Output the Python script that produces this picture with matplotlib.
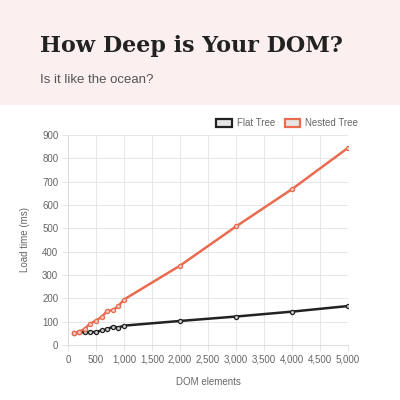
import matplotlib.pyplot as plt
from matplotlib.patches import Rectangle
from matplotlib.ticker import FuncFormatter

plt.rcParams['font.family'] = ['Liberation Sans', 'DejaVu Sans']

# 数据
dom_elements = [100, 200, 300, 400, 500, 600, 700, 800, 900, 1000, 2000, 3000, 4000, 5000]
flat_tree = [51, 54, 55, 56, 55, 63, 67, 79, 75, 83, 103, 122, 143, 167]
nested_tree = [50, 57, 70, 92, 105, 120, 146, 150, 167, 195, 340, 508, 668, 845]

flat_color = '#222222'
nested_color = '#ea6b4f'
grid_color = '#e6e6e6'
text_color = '#666666'

fig = plt.figure(figsize=(4, 4), dpi=100)
fig.patch.set_facecolor('white')

# 顶部粉色标题栏
fig.patches.append(Rectangle((0, 1 - 105 / 400), 1, 105 / 400, transform=fig.transFigure,
                             facecolor='#fbf0ef', edgecolor='none', zorder=0))
fig.text(40 / 400, 1 - 46 / 400, 'How Deep is Your DOM?', fontsize=16, fontweight='bold',
         family='DejaVu Serif', color='#222222', va='center', ha='left')
fig.text(40 / 400, 1 - 80 / 400, 'Is it like the ocean?', fontsize=9.5, color='#555555',
         va='center', ha='left')

ax = fig.add_axes([68 / 400, 1 - 345 / 400, 280 / 400, 210 / 400])
ax.plot(dom_elements, flat_tree, color=flat_color, lw=1.8, marker='o', ms=3,
        mfc='#cccccc', mec=flat_color, mew=0.9, label='Flat Tree', zorder=3)
ax.plot(dom_elements, nested_tree, color=nested_color, lw=1.8, marker='o', ms=3,
        mfc='#f2c9bd', mec=nested_color, mew=0.9, label='Nested Tree', zorder=3)

ax.set_xlim(0, 5000)
ax.set_ylim(0, 900)
ax.set_xticks(range(0, 5001, 500))
ax.set_yticks(range(0, 901, 100))
ax.xaxis.set_major_formatter(FuncFormatter(lambda v, p: f'{int(v):,}'))
ax.grid(True, color=grid_color, lw=0.7)
ax.set_axisbelow(True)
for s in ['top', 'right']:
    ax.spines[s].set_visible(False)
for s in ['left', 'bottom']:
    ax.spines[s].set_color('#dddddd')
    ax.spines[s].set_linewidth(0.8)
ax.tick_params(length=4, width=0.7, color=grid_color, labelsize=7, labelcolor=text_color, pad=3)
ax.set_xlabel('DOM elements', fontsize=7, color=text_color, labelpad=9)
ax.set_ylabel('Load time (ms)', fontsize=7, color=text_color, labelpad=9)

# 图例：方块样式
handles = [Rectangle((0, 0), 1, 1, facecolor='#e6e6e6', edgecolor=flat_color, lw=1.6),
           Rectangle((0, 0), 1, 1, facecolor='#e6e6e6', edgecolor=nested_color, lw=1.6)]
ax.legend(handles, ['Flat Tree', 'Nested Tree'], loc='lower right', bbox_to_anchor=(1.06, 1.0),
          ncol=2, frameon=False, fontsize=7, labelcolor=text_color, handlelength=1.6,
          handleheight=0.9, handletextpad=0.5, columnspacing=1.0, borderaxespad=0.3)

fig.savefig('out.png', dpi=100)
